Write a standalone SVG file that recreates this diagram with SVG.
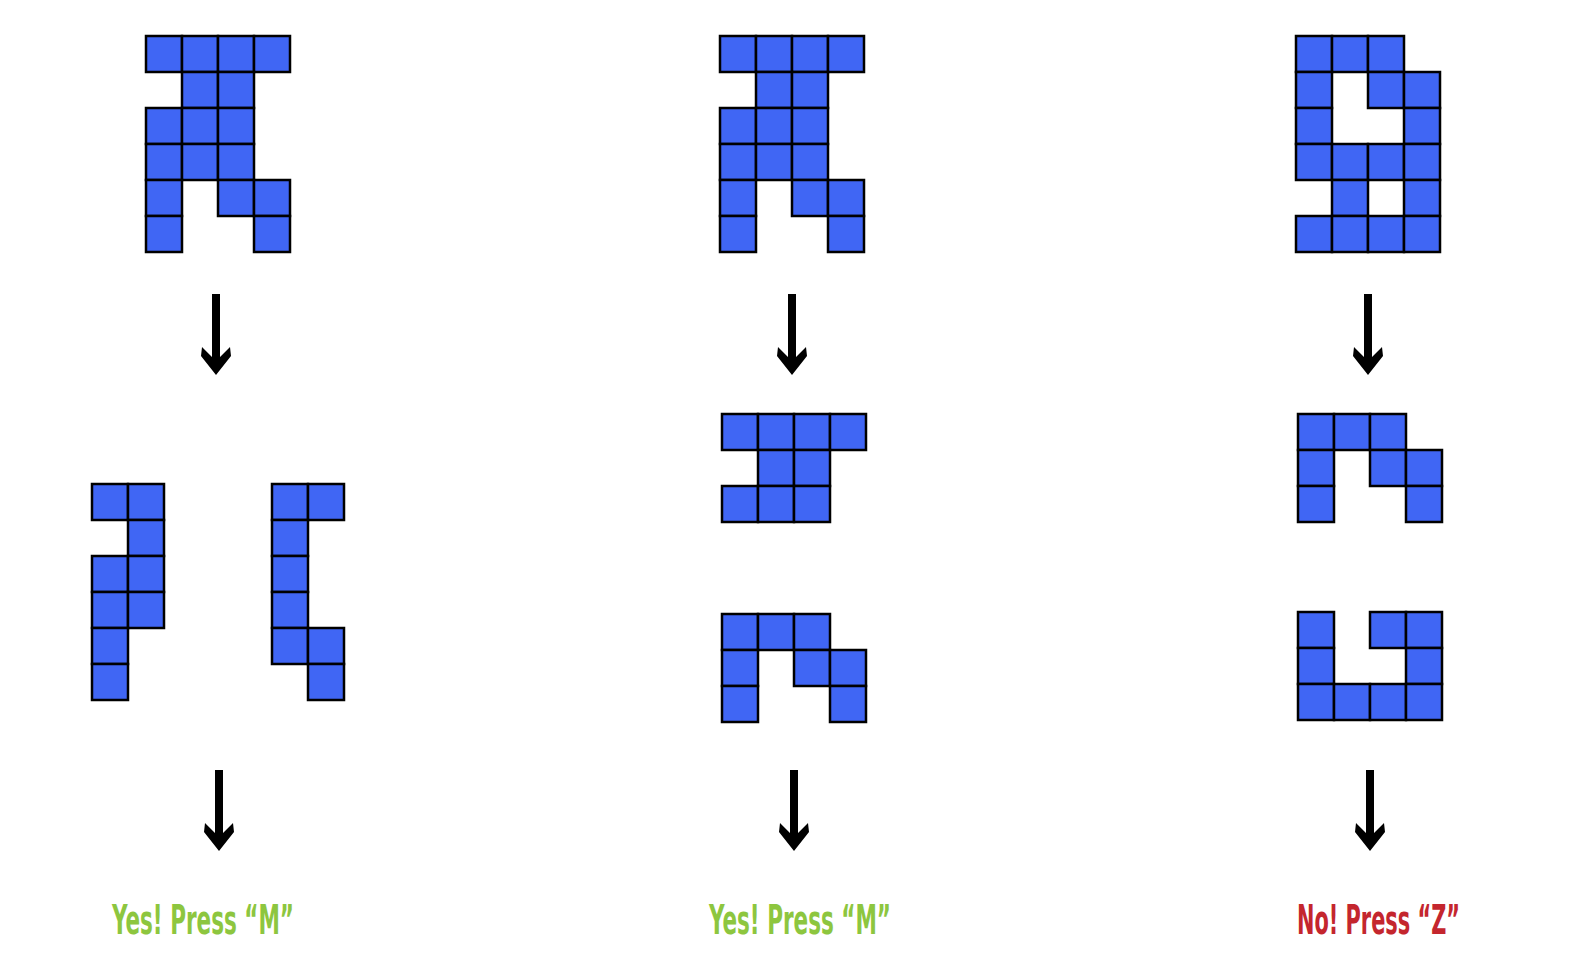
<svg xmlns="http://www.w3.org/2000/svg" xmlns:xlink="http://www.w3.org/1999/xlink" width="1584" height="972" viewBox="0 0 1584 972">
<style>
.c{fill:#4066F4;stroke:#000;stroke-width:2.5}
.t{font-family:"Liberation Sans Narrow","DejaVu Sans Condensed","Liberation Sans",sans-serif;font-weight:bold;font-size:40px}
.yes{fill:#8DC63F}
.no{fill:#C4262E}
</style>
<defs>
<path id="arr" d="M-4,0 H4 V63 L14,53 L15,62 L0,81 L-15,62 L-14,53 L-4,63 Z" fill="#000"/>
</defs>
<rect width="1584" height="972" fill="#fff"/>
<g id="shape-left">
<rect class="c" x="146" y="36" width="36" height="36"/><rect class="c" x="182" y="36" width="36" height="36"/><rect class="c" x="218" y="36" width="36" height="36"/><rect class="c" x="254" y="36" width="36" height="36"/>
<rect class="c" x="182" y="72" width="36" height="36"/><rect class="c" x="218" y="72" width="36" height="36"/>
<rect class="c" x="146" y="108" width="36" height="36"/><rect class="c" x="182" y="108" width="36" height="36"/><rect class="c" x="218" y="108" width="36" height="36"/>
<rect class="c" x="146" y="144" width="36" height="36"/><rect class="c" x="182" y="144" width="36" height="36"/><rect class="c" x="218" y="144" width="36" height="36"/>
<rect class="c" x="146" y="180" width="36" height="36"/><rect class="c" x="218" y="180" width="36" height="36"/><rect class="c" x="254" y="180" width="36" height="36"/>
<rect class="c" x="146" y="216" width="36" height="36"/><rect class="c" x="254" y="216" width="36" height="36"/>
</g>
<g id="shape-middle">
<rect class="c" x="720" y="36" width="36" height="36"/><rect class="c" x="756" y="36" width="36" height="36"/><rect class="c" x="792" y="36" width="36" height="36"/><rect class="c" x="828" y="36" width="36" height="36"/>
<rect class="c" x="756" y="72" width="36" height="36"/><rect class="c" x="792" y="72" width="36" height="36"/>
<rect class="c" x="720" y="108" width="36" height="36"/><rect class="c" x="756" y="108" width="36" height="36"/><rect class="c" x="792" y="108" width="36" height="36"/>
<rect class="c" x="720" y="144" width="36" height="36"/><rect class="c" x="756" y="144" width="36" height="36"/><rect class="c" x="792" y="144" width="36" height="36"/>
<rect class="c" x="720" y="180" width="36" height="36"/><rect class="c" x="792" y="180" width="36" height="36"/><rect class="c" x="828" y="180" width="36" height="36"/>
<rect class="c" x="720" y="216" width="36" height="36"/><rect class="c" x="828" y="216" width="36" height="36"/>
</g>
<g id="shape-right">
<rect class="c" x="1296" y="36" width="36" height="36"/><rect class="c" x="1332" y="36" width="36" height="36"/><rect class="c" x="1368" y="36" width="36" height="36"/>
<rect class="c" x="1296" y="72" width="36" height="36"/><rect class="c" x="1368" y="72" width="36" height="36"/><rect class="c" x="1404" y="72" width="36" height="36"/>
<rect class="c" x="1296" y="108" width="36" height="36"/><rect class="c" x="1404" y="108" width="36" height="36"/>
<rect class="c" x="1296" y="144" width="36" height="36"/><rect class="c" x="1332" y="144" width="36" height="36"/><rect class="c" x="1368" y="144" width="36" height="36"/><rect class="c" x="1404" y="144" width="36" height="36"/>
<rect class="c" x="1332" y="180" width="36" height="36"/><rect class="c" x="1404" y="180" width="36" height="36"/>
<rect class="c" x="1296" y="216" width="36" height="36"/><rect class="c" x="1332" y="216" width="36" height="36"/><rect class="c" x="1368" y="216" width="36" height="36"/><rect class="c" x="1404" y="216" width="36" height="36"/>
</g>
<g id="piece-left-a">
<rect class="c" x="92" y="484" width="36" height="36"/><rect class="c" x="128" y="484" width="36" height="36"/>
<rect class="c" x="128" y="520" width="36" height="36"/>
<rect class="c" x="92" y="556" width="36" height="36"/><rect class="c" x="128" y="556" width="36" height="36"/>
<rect class="c" x="92" y="592" width="36" height="36"/><rect class="c" x="128" y="592" width="36" height="36"/>
<rect class="c" x="92" y="628" width="36" height="36"/>
<rect class="c" x="92" y="664" width="36" height="36"/>
</g>
<g id="piece-left-b">
<rect class="c" x="272" y="484" width="36" height="36"/><rect class="c" x="308" y="484" width="36" height="36"/>
<rect class="c" x="272" y="520" width="36" height="36"/>
<rect class="c" x="272" y="556" width="36" height="36"/>
<rect class="c" x="272" y="592" width="36" height="36"/>
<rect class="c" x="272" y="628" width="36" height="36"/><rect class="c" x="308" y="628" width="36" height="36"/>
<rect class="c" x="308" y="664" width="36" height="36"/>
</g>
<g id="piece-middle-a">
<rect class="c" x="722" y="414" width="36" height="36"/><rect class="c" x="758" y="414" width="36" height="36"/><rect class="c" x="794" y="414" width="36" height="36"/><rect class="c" x="830" y="414" width="36" height="36"/>
<rect class="c" x="758" y="450" width="36" height="36"/><rect class="c" x="794" y="450" width="36" height="36"/>
<rect class="c" x="722" y="486" width="36" height="36"/><rect class="c" x="758" y="486" width="36" height="36"/><rect class="c" x="794" y="486" width="36" height="36"/>
</g>
<g id="piece-middle-b">
<rect class="c" x="722" y="614" width="36" height="36"/><rect class="c" x="758" y="614" width="36" height="36"/><rect class="c" x="794" y="614" width="36" height="36"/>
<rect class="c" x="722" y="650" width="36" height="36"/><rect class="c" x="794" y="650" width="36" height="36"/><rect class="c" x="830" y="650" width="36" height="36"/>
<rect class="c" x="722" y="686" width="36" height="36"/><rect class="c" x="830" y="686" width="36" height="36"/>
</g>
<g id="piece-right-a">
<rect class="c" x="1298" y="414" width="36" height="36"/><rect class="c" x="1334" y="414" width="36" height="36"/><rect class="c" x="1370" y="414" width="36" height="36"/>
<rect class="c" x="1298" y="450" width="36" height="36"/><rect class="c" x="1370" y="450" width="36" height="36"/><rect class="c" x="1406" y="450" width="36" height="36"/>
<rect class="c" x="1298" y="486" width="36" height="36"/><rect class="c" x="1406" y="486" width="36" height="36"/>
</g>
<g id="piece-right-b">
<rect class="c" x="1298" y="612" width="36" height="36"/><rect class="c" x="1370" y="612" width="36" height="36"/><rect class="c" x="1406" y="612" width="36" height="36"/>
<rect class="c" x="1298" y="648" width="36" height="36"/><rect class="c" x="1406" y="648" width="36" height="36"/>
<rect class="c" x="1298" y="684" width="36" height="36"/><rect class="c" x="1334" y="684" width="36" height="36"/><rect class="c" x="1370" y="684" width="36" height="36"/><rect class="c" x="1406" y="684" width="36" height="36"/>
</g>
<g id="connectors">
<use xlink:href="#arr" href="#arr" x="216" y="294"/>
<use xlink:href="#arr" href="#arr" x="792" y="294"/>
<use xlink:href="#arr" href="#arr" x="1368" y="294"/>
<use xlink:href="#arr" href="#arr" x="219" y="770"/>
<use xlink:href="#arr" href="#arr" x="794" y="770"/>
<use xlink:href="#arr" href="#arr" x="1370" y="770"/>
</g>
<g id="label-left"><text class="t yes" x="112" y="934" textLength="182" lengthAdjust="spacingAndGlyphs">Yes! Press “M”</text></g>
<g id="label-middle"><text class="t yes" x="709" y="934" textLength="182" lengthAdjust="spacingAndGlyphs">Yes! Press “M”</text></g>
<g id="label-right"><text class="t no" x="1297" y="934" textLength="163" lengthAdjust="spacingAndGlyphs">No! Press “Z”</text></g>
</svg>
